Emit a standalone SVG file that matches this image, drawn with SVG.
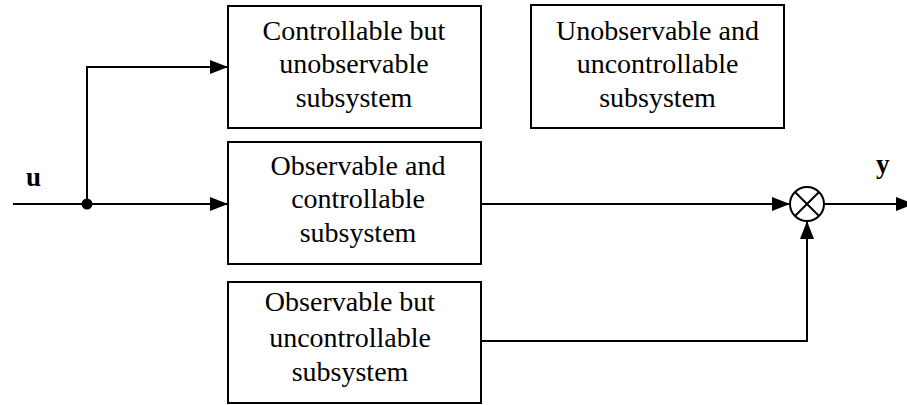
<svg xmlns="http://www.w3.org/2000/svg" width="907" height="405" viewBox="0 0 907 405">
  <style>
    .box { fill: #fff; stroke: #000; stroke-width: 2; }
    .lbl { font-family: "Liberation Serif", "Times New Roman", serif; font-size: 28px; fill: #000; text-anchor: middle; }
    .sig { font-family: "Liberation Serif", "Times New Roman", serif; font-size: 27px; font-weight: bold; fill: #000; }
    .wire { fill: none; stroke: #000; stroke-width: 2; }
  </style>
  <defs>
    <marker id="arrow" viewBox="0 0 18 14" refX="18" refY="7" markerWidth="18" markerHeight="14" markerUnits="userSpaceOnUse" orient="auto">
      <path d="M0,0 L18,7 L0,14 Z" fill="#000"/>
    </marker>
  </defs>

  <rect width="907" height="405" fill="#fff"/>

  <g id="node-cu">
    <rect class="box" x="228" y="6" width="253" height="122"/>
    <text class="lbl" x="354" y="40">Controllable but</text>
    <text class="lbl" x="354" y="73">unobservable</text>
    <text class="lbl" x="354" y="107">subsystem</text>
  </g>

  <g id="node-uu">
    <rect class="box" x="531" y="5" width="253" height="123"/>
    <text class="lbl" x="657.5" y="40">Unobservable and</text>
    <text class="lbl" x="657.5" y="73">uncontrollable</text>
    <text class="lbl" x="657.5" y="107">subsystem</text>
  </g>

  <g id="node-oc">
    <rect class="box" x="228" y="142" width="253" height="122"/>
    <text class="lbl" x="358" y="175">Observable and</text>
    <text class="lbl" x="358" y="208">controllable</text>
    <text class="lbl" x="358" y="242">subsystem</text>
  </g>

  <g id="node-ou">
    <rect class="box" x="228" y="282" width="253" height="121"/>
    <text class="lbl" x="350" y="311">Observable but</text>
    <text class="lbl" x="350" y="347">uncontrollable</text>
    <text class="lbl" x="350" y="381">subsystem</text>
  </g>

  <g id="node-sum">
    <circle cx="807" cy="204" r="17" fill="#fff" stroke="#000" stroke-width="2"/>
    <path d="M795,192 L819,216 M819,192 L795,216" stroke="#000" stroke-width="2"/>
  </g>

  <g id="connectors">
    <!-- input and branch point -->
    <path class="wire" d="M13,204 L87,204"/>
    <circle cx="87" cy="204" r="5.5" fill="#000"/>
    <path class="wire" d="M87,204 L228,204" marker-end="url(#arrow)"/>
    <path class="wire" d="M87,204 L87,67 L228,67" marker-end="url(#arrow)"/>
    <!-- outputs to the summing junction -->
    <path class="wire" d="M481,204 L790,204" marker-end="url(#arrow)"/>
    <path class="wire" d="M481,341 L807,341 L807,221" marker-end="url(#arrow)"/>
    <!-- output -->
    <path class="wire" d="M824,204 L914,204" marker-end="url(#arrow)"/>
  </g>

  <text class="sig" x="26" y="186">u</text>
  <text class="sig" x="876" y="173">y</text>
</svg>
